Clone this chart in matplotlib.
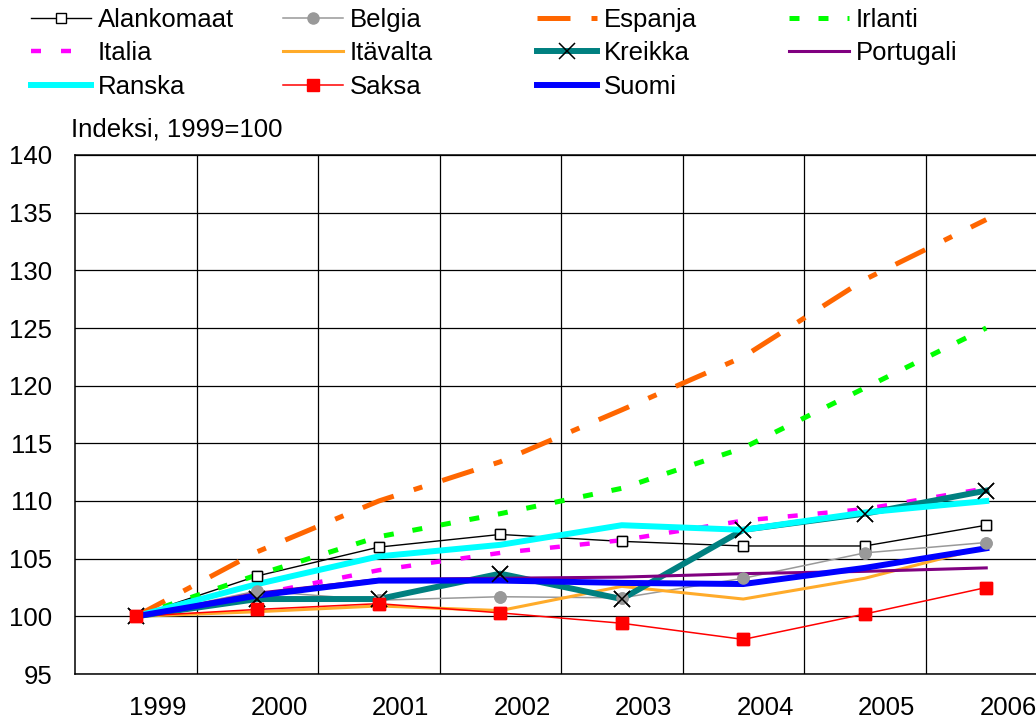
import matplotlib
matplotlib.use("Agg")
import matplotlib.pyplot as plt
from matplotlib.transforms import ScaledTranslation

plt.rcParams["font.family"] = ["Liberation Sans", "DejaVu Sans"]

years = ["1999", "2000", "2001", "2002", "2003", "2004", "2005", "2006"]

alankomaat = [100, 103.5, 106.0, 107.1, 106.5, 106.1, 106.1, 107.9]
belgia = [100, 102.2, 101.4, 101.7, 101.6, 103.3, 105.5, 106.4]
espanja = [100, 105.6, 110.0, 113.4, 117.9, 122.5, 129.2, 134.4]
irlanti = [100, 103.6, 106.9, 108.9, 111.1, 114.6, 119.8, 125.0]
italia = [100, 101.9, 104.0, 105.5, 106.6, 108.3, 109.3, 111.1]
itavalta = [100, 100.4, 100.9, 100.5, 102.6, 101.5, 103.3, 106.0]
kreikka = [100, 101.5, 101.5, 103.7, 101.5, 107.5, 108.9, 110.9]
portugali = [100, 102.0, 103.2, 103.3, 103.4, 103.7, 103.9, 104.2]
ranska = [100, 102.8, 105.2, 106.2, 107.9, 107.5, 109.0, 110.0]
saksa = [100, 100.6, 101.1, 100.3, 99.4, 98.0, 100.2, 102.5]
suomi = [100, 101.8, 103.1, 103.1, 102.9, 102.8, 104.2, 105.9]

x = list(range(len(years)))

fig = plt.figure(figsize=(10.36, 7.22), dpi=100)
# right edge of the plot area runs past the picture, as in the original
ax = fig.add_axes([75 / 1036, 48 / 722, 972 / 1036, 519 / 722])

FS = 18.5
h = {}
h["Alankomaat"], = ax.plot(x, alankomaat, color="black", lw=1.0, marker="s", ms=6.5,
                           mfc="white", mec="black", mew=1.0, zorder=2.0)
h["Belgia"], = ax.plot(x, belgia, color="#999999", lw=1.1, marker="o", ms=8,
                       mfc="#999999", mec="#999999", zorder=2.01)
h["Espanja"], = ax.plot(x, espanja, color="#ff6600", lw=3.6, dashes=(6.6, 4.2, 1.8, 4.2),
                        zorder=2.02)
h["Irlanti"], = ax.plot(x, irlanti, color="#00ff00", lw=3.6, dashes=(2.0, 3.8), zorder=2.03)
h["Italia"], = ax.plot(x, italia, color="#ff00ff", lw=3.2, dashes=(2.25, 4.5), zorder=2.04)
h["Itävalta"], = ax.plot(x, itavalta, color="#ffab2a", lw=2.2, zorder=2.05)
h["Kreikka"], = ax.plot(x, kreikka, color="#008080", lw=4.3, marker="x", ms=11,
                        mec="black", mew=1.1, zorder=2.06)
h["Portugali"], = ax.plot(x, portugali, color="#800080", lw=2.2, zorder=2.07)
h["Ranska"], = ax.plot(x, ranska, color="#00ffff", lw=4.3, zorder=2.08)
h["Saksa"], = ax.plot(x, saksa, color="#ff0000", lw=1.1, marker="s", ms=8.6,
                      mfc="#ff0000", mec="#ff0000", zorder=2.09)
h["Suomi"], = ax.plot(x, suomi, color="#0000ff", lw=4.3, zorder=2.1)

# markers sit on top of all lines
ax.plot(x, alankomaat, ls="none", marker="s", ms=6.5, mfc="white", mec="black", mew=1.0, zorder=3)
ax.plot(x, belgia, ls="none", marker="o", ms=8, color="#999999", zorder=3)
ax.plot(x, kreikka, ls="none", marker="x", ms=11, mec="black", mew=1.1, zorder=3)
ax.plot(x, saksa, ls="none", marker="s", ms=8.6, color="#ff0000", zorder=3)

ax.set_xlim(-0.5, 7.5)
ax.set_ylim(95, 140)
ax.set_yticks(range(95, 141, 5))
ax.set_xticks(x)
ax.set_xticklabels(years)
ax.set_xticks([i + 0.5 for i in x[:-1]], minor=True)
ax.grid(True, which="minor", axis="x", color="black", lw=0.9)
ax.grid(True, which="major", axis="y", color="black", lw=0.9)
ax.set_axisbelow(True)
ax.tick_params(which="both", length=0, labelsize=FS)
ax.tick_params(axis="x", pad=16)
ax.tick_params(axis="y", pad=16.5)
for s in ax.spines.values():
    s.set_linewidth(1.1)
    s.set_color("black")

shift = ScaledTranslation(0.22, 0, fig.dpi_scale_trans)
for lab in ax.get_xticklabels():
    lab.set_transform(lab.get_transform() + shift)

fig.text(71 / 1036, (722 - 137) / 722, "Indeksi, 1999=100", fontsize=FS, va="baseline")

columns = [["Alankomaat", "Italia", "Ranska"],
           ["Belgia", "Itävalta", "Saksa"],
           ["Espanja", "Kreikka", "Suomi"],
           ["Irlanti", "Portugali"]]
col_x = [31, 283, 537, 789]
for names, cx in zip(columns, col_x):
    fig.legend([h[n] for n in names], names, loc="upper left",
               bbox_to_anchor=(cx / 1036, 1 - 8 / 722), frameon=False,
               fontsize=FS, numpoints=1, handlelength=2.34, handletextpad=0.27,
               labelspacing=0.36, borderpad=0, borderaxespad=0)

fig.savefig("out.png", dpi=100)
